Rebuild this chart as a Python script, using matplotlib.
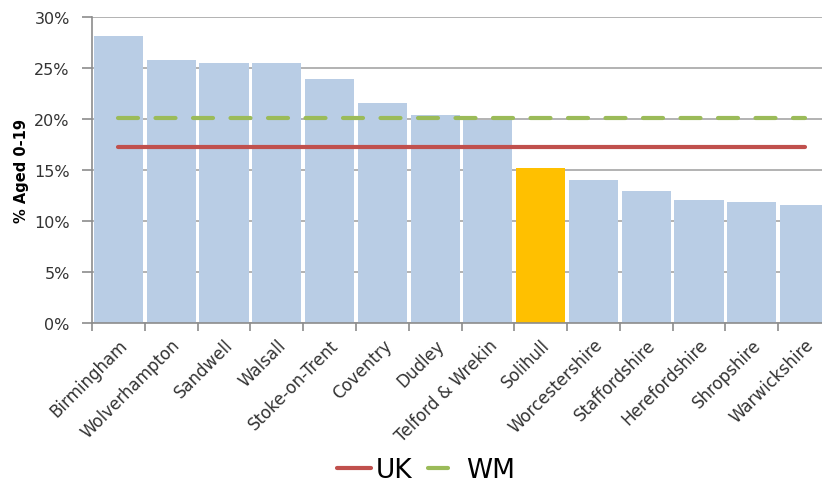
import matplotlib
matplotlib.use("Agg")
import matplotlib.pyplot as plt
import numpy as np
from matplotlib.ticker import FuncFormatter, FixedLocator

categories = ["Birmingham", "Wolverhampton", "Sandwell", "Walsall", "Stoke-on-Trent",
              "Coventry", "Dudley", "Telford & Wrekin", "Solihull", "Worcestershire",
              "Staffordshire", "Herefordshire", "Shropshire", "Warwickshire"]
values = [28.1, 25.8, 25.5, 25.5, 23.9, 21.6, 20.4, 19.9, 15.2, 14.0, 12.9, 12.1, 11.9, 11.6]
uk_value = 17.3
wm_value = 20.1
highlight = "Solihull"

plt.rcParams['font.family'] = ['DejaVu Sans']

fig = plt.figure(figsize=(8.22, 4.89), dpi=100)
ax = fig.add_axes([92/822, 1-324/489, (831-92)/822, (324-18)/489])

x = np.arange(len(categories))
colors = ["#FFC000" if c == highlight else "#B9CDE5" for c in categories]
ax.bar(x, values, width=0.93, color=colors, zorder=2)

uk_line, = ax.plot(x, [uk_value]*len(x), color="#C0504D", lw=3, solid_capstyle='round', zorder=3)
wm_line, = ax.plot(x, [wm_value]*len(x), color="#9BBB59", lw=3, dashes=(4.8, 4.2),
                   dash_capstyle='round', zorder=3)

ax.set_xlim(-0.5, len(categories)-0.5)
ax.set_ylim(0, 30)
ax.set_yticks(np.arange(0, 31, 5))
ax.yaxis.set_major_formatter(FuncFormatter(lambda v, p: f"{int(v)}%"))
ax.yaxis.grid(True, color="#A6A6A6", lw=1.2, zorder=0)
ax.set_axisbelow(True)

ax.set_xticks(x)
ax.set_xticklabels(categories, rotation=45, ha='right', va='top', rotation_mode='anchor',
                   fontsize=12, color="#333333")
ax.tick_params(axis='x', which='major', length=0, pad=9)
ax.xaxis.set_minor_locator(FixedLocator(np.arange(-0.5, len(categories), 1)))
ax.tick_params(axis='x', which='minor', length=6, color="#8C8C8C", width=1.2)
ax.tick_params(axis='y', length=7, color="#8C8C8C", width=1.2, labelsize=11.5,
               labelcolor="#333333", pad=9)

for s in ['top', 'right']:
    ax.spines[s].set_visible(False)
for s in ['left', 'bottom']:
    ax.spines[s].set_color("#8C8C8C")
    ax.spines[s].set_linewidth(1.2)

ax.set_ylabel("% Aged 0-19", fontsize=10.5, fontweight='bold', labelpad=4)

fig.legend([uk_line, wm_line], ["UK", "WM"], loc='center', bbox_to_anchor=(426/822, 1-471/489),
           ncol=2, frameon=False, fontsize=19, handlelength=1.3, handletextpad=0.15,
           columnspacing=0.6)

fig.savefig("out.png", dpi=100)
